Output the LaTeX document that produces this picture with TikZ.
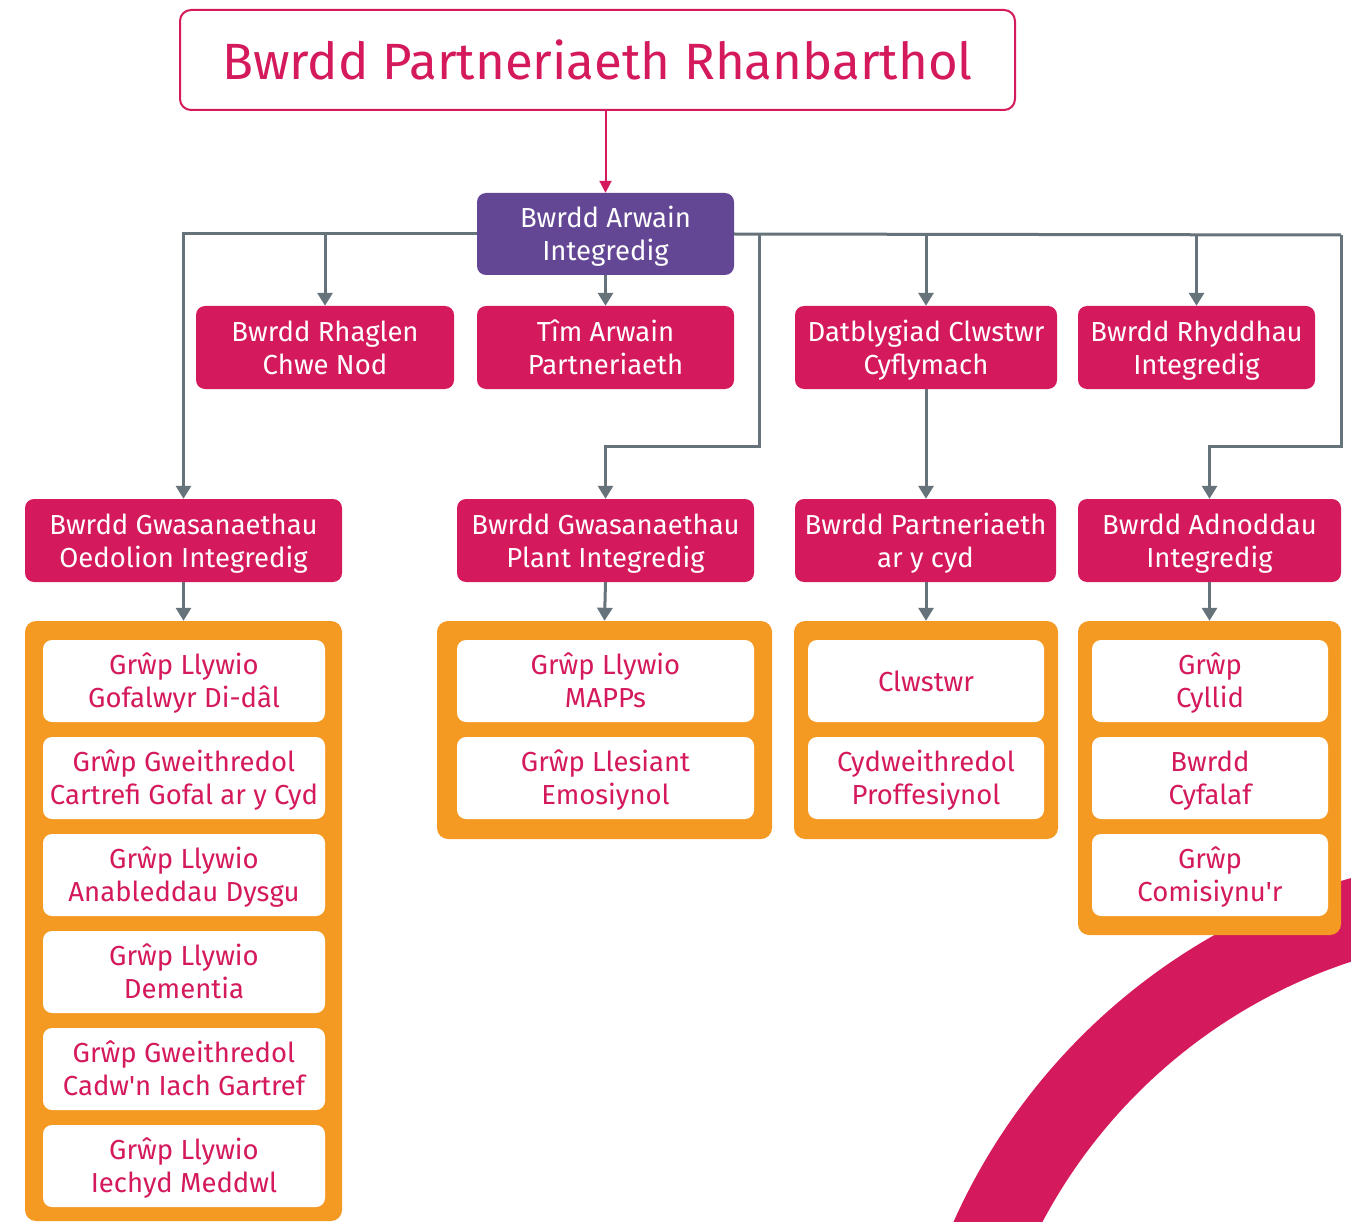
\documentclass[tikz,border=0pt]{standalone}
\usepackage{fontspec}
\setmainfont{Fira Sans}
\newfontfamily\plainfira{Fira Sans}
\usetikzlibrary{arrows.meta}
\definecolor{mag}{RGB}{212,25,92}
\definecolor{org}{RGB}{244,154,34}
\definecolor{gry}{RGB}{103,115,123}
\definecolor{pur}{RGB}{99,71,149}
\newcommand\bstrut{\rule[-6.2pt]{0pt}{32.6pt}}
\newcommand\twoline[2]{\bstrut#1\\\bstrut#2}
\newcommand\apos{{\plainfira\char39}}
\tikzset{
  bx/.style={rounded corners=9pt, inner sep=0pt, align=center, font=\fontsize{27.5}{33}\selectfont},
  redbox/.style={bx, fill=mag, text=white},
  purbox/.style={bx, fill=pur, text=white},
  whbox/.style={bx, fill=white, text=mag},
  orgbox/.style={rounded corners=11pt, fill=org, inner sep=0pt},
  gline/.style={draw=gry, line width=3pt},
  garrow/.style={gline, -{Triangle[width=15pt,length=13pt]}},
  rarrow/.style={draw=mag, line width=2pt, -{Triangle[width=12pt,length=12pt]}}
}
\begin{document}
\begin{tikzpicture}[x=1pt,y=-1pt]
\useasboundingbox (0,0) rectangle (1351,1222);
% ring
\begin{scope}
\clip (0,0) rectangle (1351,1222);
\draw[mag, line width=80pt] (1519,1474) circle[radius=579pt];
\end{scope}
% title
\node[draw=mag, line width=2pt, fill=white, rounded corners=11pt, minimum width=835pt, minimum height=100pt, inner sep=0pt, text=mag, font=\fontsize{51}{54}\selectfont] (title) at (597.5,60) {Bwrdd Partneriaeth Rhanbarthol};
% row 1
\node[purbox, minimum width=257pt, minimum height=82pt] (arwain) at (605.5,234) {\twoline{Bwrdd Arwain}{Integredig}};
% row 2
\node[redbox, minimum width=258pt, minimum height=83pt] (rhag) at (325,347.5) {\twoline{Bwrdd Rhaglen}{Chwe Nod}};
\node[redbox, minimum width=257pt, minimum height=83pt] (tim) at (605.5,347.5) {\twoline{Tîm Arwain}{Partneriaeth}};
\node[redbox, minimum width=262pt, minimum height=83pt] (dat) at (926,347.5) {\twoline{Datblygiad Clwstwr}{Cyflymach}};
\node[redbox, minimum width=237pt, minimum height=83pt] (rhy) at (1196.5,347.5) {\twoline{Bwrdd Rhyddhau}{Integredig}};
% row 3
\node[redbox, minimum width=317pt, minimum height=83pt] (oed) at (183.5,540.5) {\twoline{Bwrdd Gwasanaethau}{Oedolion Integredig}};
\node[redbox, minimum width=297pt, minimum height=83pt] (plant) at (605.5,540.5) {\twoline{Bwrdd Gwasanaethau}{Plant Integredig}};
\node[redbox, minimum width=261pt, minimum height=83pt] (pcyd) at (925.5,540.5) {\twoline{Bwrdd Partneriaeth}{ar y cyd}};
\node[redbox, minimum width=263pt, minimum height=83pt] (adn) at (1209.5,540.5) {\twoline{Bwrdd Adnoddau}{Integredig}};
% orange containers
\node[orgbox, minimum width=317pt, minimum height=600pt] (o1) at (183.5,921) {};
\node[orgbox, minimum width=335pt, minimum height=218pt] (o2) at (604.5,730) {};
\node[orgbox, minimum width=264pt, minimum height=218pt] (o3) at (926,730) {};
\node[orgbox, minimum width=263pt, minimum height=314pt] (o4) at (1209.5,778) {};
% white boxes left
\node[whbox, minimum width=282pt, minimum height=82pt] (w11) at (184,681) {\twoline{Grŵp Llywio}{Gofalwyr Di-dâl}};
\node[whbox, minimum width=282pt, minimum height=82pt] (w12) at (184,778) {\twoline{Grŵp Gweithredol}{Cartrefi Gofal ar y Cyd}};
\node[whbox, minimum width=282pt, minimum height=82pt] (w13) at (184,875) {\twoline{Grŵp Llywio}{Anableddau Dysgu}};
\node[whbox, minimum width=282pt, minimum height=82pt] (w14) at (184,972) {\twoline{Grŵp Llywio}{Dementia}};
\node[whbox, minimum width=282pt, minimum height=82pt] (w15) at (184,1069) {\twoline{Grŵp Gweithredol}{Cadw\apos n Iach Gartref}};
\node[whbox, minimum width=282pt, minimum height=82pt] (w16) at (184,1166) {\twoline{Grŵp Llywio}{Iechyd Meddwl}};
% white boxes middle
\node[whbox, minimum width=297pt, minimum height=82pt] (w21) at (605.5,681) {\twoline{Grŵp Llywio}{MAPPs}};
\node[whbox, minimum width=297pt, minimum height=82pt] (w22) at (605.5,778) {\twoline{Grŵp Llesiant}{Emosiynol}};
% white boxes third
\node[whbox, minimum width=236pt, minimum height=82pt] (w31) at (926,681) {\bstrut Clwstwr};
\node[whbox, minimum width=236pt, minimum height=82pt] (w32) at (926,778) {\twoline{Cydweithredol}{Proffesiynol}};
% white boxes right
\node[whbox, minimum width=236pt, minimum height=82pt] (w41) at (1210,681) {\twoline{Grŵp}{Cyllid}};
\node[whbox, minimum width=236pt, minimum height=82pt] (w42) at (1210,778) {\twoline{Bwrdd}{Cyfalaf}};
\node[whbox, minimum width=236pt, minimum height=82pt] (w43) at (1210,875) {\twoline{Grŵp}{Comisiynu\apos r}};
% junction coordinates
\coordinate (jm) at (759,235);
\coordinate (jmb) at (759,446);
\coordinate (jr) at (1341,235);
\coordinate (jrb) at (1341,446);
% connectors
\draw[rarrow] (title.south -| arwain.north) -- (arwain.north);
\draw[garrow] (arwain.west) -| (oed.north);
\draw[garrow] (arwain.west -| rhag.north) -- (rhag.north);
\draw[garrow] (arwain.south) -- (tim.north);
\draw[gline] (arwain.east) -- (jr);
\draw[garrow] (jm) -- (jmb) -| (plant.north);
\draw[garrow] (jr) -- (jrb) -| (adn.north);
\draw[garrow] (arwain.east -| dat.north) -- (dat.north);
\draw[garrow] (arwain.east -| rhy.north) -- (rhy.north);
\draw[garrow] (dat.south) -- (dat.south |- pcyd.north);
\draw[garrow] (oed.south) -- (o1.north);
\draw[garrow] (plant.south) -- (o2.north);
\draw[garrow] (pcyd.south -| o3.north) -- (o3.north);
\draw[garrow] (adn.south) -- (o4.north);
\end{tikzpicture}
\end{document}
